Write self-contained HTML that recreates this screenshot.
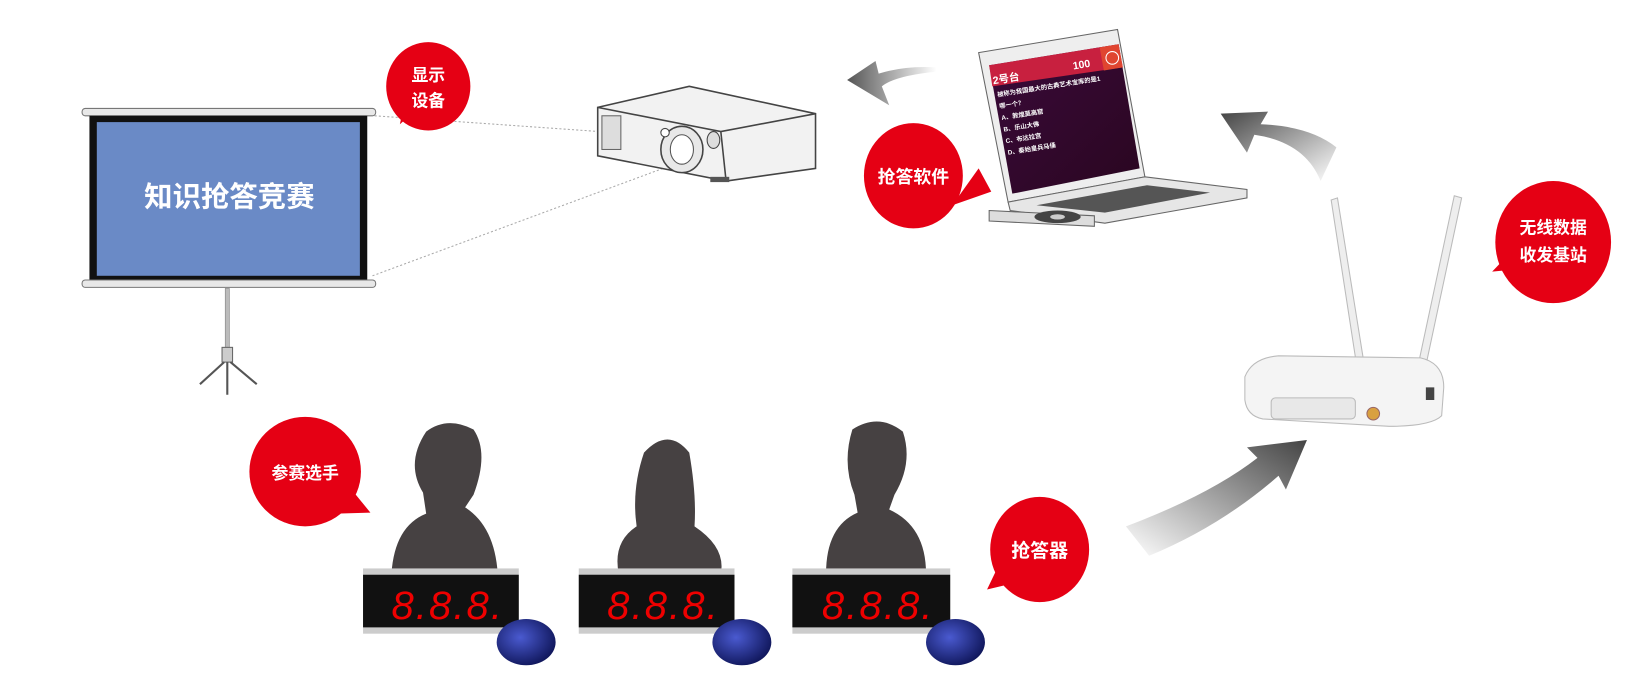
<!DOCTYPE html>
<html><head><meta charset="utf-8"><style>
html,body{margin:0;padding:0;background:#fff;width:1650px;height:700px;overflow:hidden}
svg{display:block}
text{font-family:"Liberation Sans","Noto Sans CJK SC",sans-serif;font-weight:bold}
</style></head><body>
<svg width="1650" height="700" viewBox="0 0 1568 665" preserveAspectRatio="none">
<defs>
<linearGradient id="ga" x1="1" y1="0" x2="0" y2="0"><stop offset="0" stop-color="#fff"/><stop offset="1" stop-color="#555"/></linearGradient>
<linearGradient id="gb" x1="1" y1="1" x2="0" y2="0"><stop offset="0" stop-color="#fff"/><stop offset="1" stop-color="#444"/></linearGradient>
<linearGradient id="gc" x1="0" y1="1" x2="1" y2="0"><stop offset="0" stop-color="#fff"/><stop offset="1" stop-color="#444"/></linearGradient>
<linearGradient id="pur" x1="0" y1="0" x2="1" y2="1"><stop offset="0" stop-color="#3a0a3a"/><stop offset="1" stop-color="#2a0620"/></linearGradient>
<radialGradient id="buz" cx="0.4" cy="0.4" r="0.7"><stop offset="0" stop-color="#4a5ad0"/><stop offset="1" stop-color="#0a1050"/></radialGradient>
</defs>

<!-- dotted lines -->
<line x1="356" y1="110" x2="570" y2="125" stroke="#aaa" stroke-dasharray="2,2"/>
<line x1="354" y1="262" x2="630" y2="160" stroke="#aaa" stroke-dasharray="2,2"/>

<!-- screen -->
<rect x="78" y="103" width="279" height="7" rx="3" fill="#e8e8e8" stroke="#777"/>
<rect x="85" y="110" width="264" height="158" fill="#111"/>
<rect x="92" y="116" width="250" height="146" fill="#6a8ac6"/>
<text x="218" y="196" font-size="27" fill="#fff" text-anchor="middle">知识抢答竞赛</text>
<rect x="78" y="266" width="279" height="7" rx="3" fill="#e8e8e8" stroke="#777"/>
<rect x="214" y="274" width="4" height="60" fill="#bbb" stroke="#777" stroke-width="0.5"/>
<rect x="211" y="330" width="10" height="14" fill="#ccc" stroke="#666"/>
<path d="M213 344 L190 365 M219 344 L244 365 M216 344 L216 375" stroke="#555" stroke-width="2"/>

<!-- bubble 显示设备 -->
<path d="M380 118 L395 105 L385 95 Z" fill="#e50014"/>
<ellipse cx="407" cy="82" rx="40" ry="42" fill="#e50014"/>
<text x="407" y="77" font-size="16" fill="#fff" text-anchor="middle">显示</text>
<text x="407" y="101" font-size="16" fill="#fff" text-anchor="middle">设备</text>

<!-- projector -->
<path d="M568 102 L655 82 L775 108 L775 160 L690 172 L568 148 Z" fill="#f2f2f2" stroke="#444" stroke-width="1.5"/>
<path d="M568 102 L685 125 L775 108 M685 125 L690 172" stroke="#444" fill="none" stroke-width="1.5"/>
<rect x="572" y="110" width="18" height="32" fill="#ddd" stroke="#666"/>
<ellipse cx="648" cy="142" rx="20" ry="22" fill="#e8e8e8" stroke="#444" stroke-width="1.5"/>
<ellipse cx="648" cy="142" rx="11" ry="14" fill="#fff" stroke="#555"/>
<circle cx="632" cy="126" r="4" fill="#fff" stroke="#444"/>
<ellipse cx="678" cy="133" rx="6" ry="8" fill="#ddd" stroke="#444"/>
<rect x="675" y="168" width="18" height="5" fill="#555"/>

<!-- arrow left -->
<path d="M890 68 Q850 72 838 82 L845 100 L805 76 L832 58 L835 70 Q860 62 890 64 Z" fill="url(#ga)"/>

<!-- laptop -->
<path d="M930 50 L1062 28 L1088 168 L958 192 Z" fill="#eee" stroke="#666"/>
<path d="M940 62 L1063 42 L1083 160 L962 184 Z" fill="url(#pur)"/>
<path d="M940 62 L1063 42 L1067 64 L943 82 Z" fill="#c8203f"/>
<path d="M1045 45 L1063 42 L1067 64 L1049 67 Z" fill="#e04530"/>
<circle cx="1057" cy="55" r="6" fill="none" stroke="#fff"/>
<text x="944" y="80" font-size="10" fill="#fff" transform="rotate(-9 944 80)">2号台</text>
<text x="1020" y="66" font-size="10" fill="#fff" transform="rotate(-9 1020 66)">100</text>
<g font-size="6" fill="#fff" font-weight="normal">
<text x="948" y="92" transform="rotate(-9 948 92)">被称为我国最大的古典艺术宝库的是1</text>
<text x="950" y="103" transform="rotate(-9 950 103)">哪一个？</text>
<text x="952" y="114" transform="rotate(-9 952 114)">A、敦煌莫高窟</text>
<text x="954" y="125" transform="rotate(-9 954 125)">B、乐山大佛</text>
<text x="956" y="136" transform="rotate(-9 956 136)">C、布达拉宫</text>
<text x="958" y="147" transform="rotate(-9 958 147)">D、秦始皇兵马俑</text>
</g>
<path d="M958 192 L1088 168 L1185 180 L1185 188 L1050 212 L960 200 Z" fill="#e6e6e6" stroke="#666"/>
<path d="M985 195 L1090 176 L1150 183 L1050 202 Z" fill="#555"/>
<path d="M940 200 L1040 205 L1040 215 L940 210 Z" fill="#ddd" stroke="#666"/>
<ellipse cx="1005" cy="206" rx="22" ry="6" fill="#444"/>
<ellipse cx="1005" cy="206" rx="7" ry="2.5" fill="#ccc"/>

<!-- bubble 抢答软件 -->
<path d="M930 160 L942 182 L905 195 Z" fill="#e50014"/>
<ellipse cx="868" cy="167" rx="47" ry="50" fill="#e50014"/>
<text x="868" y="174" font-size="17" fill="#fff" text-anchor="middle">抢答软件</text>

<!-- arrow up-left -->
<path d="M1255 172 Q1240 135 1192 128 L1185 145 L1160 108 L1205 106 L1198 118 Q1245 120 1270 140 Z" fill="url(#gb)"/>

<!-- router -->
<path d="M1265 190 L1271 188 L1297 350 L1290 352 Z" fill="#eee" stroke="#bbb"/>
<path d="M1382 186 L1389 188 L1354 352 L1347 350 Z" fill="#eee" stroke="#bbb"/>
<path d="M1183 358 Q1190 340 1215 338 L1350 340 Q1372 345 1372 368 L1370 395 Q1360 405 1320 405 L1200 398 Q1185 395 1183 380 Z" fill="#f4f4f4" stroke="#bbb"/>
<rect x="1208" y="378" width="80" height="20" rx="4" fill="#e8e8e8" stroke="#bbb"/>
<circle cx="1305" cy="393" r="6" fill="#d9a040" stroke="#966"/>
<rect x="1355" y="368" width="8" height="12" fill="#444"/>

<!-- bubble 无线数据 -->
<path d="M1418 258 L1440 235 L1450 255 Z" fill="#e50014"/>
<ellipse cx="1476" cy="230" rx="55" ry="58" fill="#e50014"/>
<text x="1476" y="222" font-size="16" fill="#fff" text-anchor="middle">无线数据</text>
<text x="1476" y="248" font-size="16" fill="#fff" text-anchor="middle">收发基站</text>

<!-- arrow up-right -->
<path d="M1070 500 Q1150 470 1195 435 L1185 425 L1242 418 L1222 465 L1215 452 Q1160 500 1092 528 Z" fill="url(#gc)"/>

<!-- bubble 参赛选手 -->
<path d="M330 460 L352 487 L320 488 Z" fill="#e50014"/>
<ellipse cx="290" cy="448" rx="53" ry="52" fill="#e50014"/>
<text x="290" y="455" font-size="16" fill="#fff" text-anchor="middle">参赛选手</text>

<!-- people -->
<g fill="#464142">
<path d="M405 410 Q425 395 450 408 Q465 430 450 470 L442 482 Q470 500 473 545 L372 545 Q375 500 405 488 L402 468 Q385 440 405 410 Z"/>
<path d="M612 430 Q635 405 655 430 Q662 470 660 500 Q690 520 685 545 L588 545 Q582 515 605 500 Q600 465 612 430 Z"/>
<path d="M810 408 Q835 392 858 410 Q868 440 850 470 L845 484 Q880 500 880 545 L785 545 Q785 500 815 487 L812 470 Q800 440 810 408 Z"/>
</g>

<!-- displays -->
<g>
<rect x="345" y="540" width="148" height="62" fill="#ccc"/>
<rect x="345" y="546" width="148" height="50" fill="#111"/>
<text x="372" y="588" font-size="38" fill="#e00" font-style="italic" letter-spacing="2" style="font-weight:normal">8.8.8.</text>
<rect x="550" y="540" width="148" height="62" fill="#ccc"/>
<rect x="550" y="546" width="148" height="50" fill="#111"/>
<text x="577" y="588" font-size="38" fill="#e00" font-style="italic" letter-spacing="2" style="font-weight:normal">8.8.8.</text>
<rect x="753" y="540" width="150" height="62" fill="#ccc"/>
<rect x="753" y="546" width="150" height="50" fill="#111"/>
<text x="781" y="588" font-size="38" fill="#e00" font-style="italic" letter-spacing="2" style="font-weight:normal">8.8.8.</text>
</g>
<ellipse cx="500" cy="610" rx="28" ry="22" fill="url(#buz)"/>
<ellipse cx="705" cy="610" rx="28" ry="22" fill="url(#buz)"/>
<ellipse cx="908" cy="610" rx="28" ry="22" fill="url(#buz)"/>

<!-- bubble 抢答器 -->
<path d="M950 535 L938 560 L972 552 Z" fill="#e50014"/>
<ellipse cx="988" cy="522" rx="47" ry="50" fill="#e50014"/>
<text x="988" y="529" font-size="18" fill="#fff" text-anchor="middle">抢答器</text>
</svg>
</body></html>
